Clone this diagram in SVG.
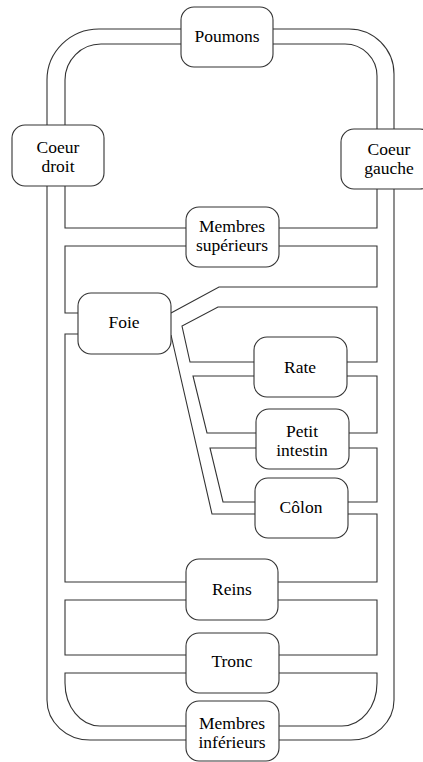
<svg xmlns="http://www.w3.org/2000/svg" width="423" height="762" viewBox="0 0 423 762">
<style>
.box{fill:#fff;stroke:#333;stroke-width:1.1}
.ln{fill:none;stroke:#333;stroke-width:1.1}
text{font-family:"Liberation Serif","DejaVu Serif",serif;font-size:17.5px;fill:#000;text-anchor:middle}
</style>
<rect width="423" height="762" fill="#fff"/>
<g id="connectors" class="ln">
<path d="M181,29 H99 A52,51 0 0 0 47,80 V125"/>
<path d="M47,186 V700 A43,40 0 0 0 90,740 H186"/>
<path d="M273,29 H349 A45,45 0 0 1 394,74 V129"/>
<path d="M394,189 V700 A43,40 0 0 1 351,740 H279"/>
<path d="M181,44 H101 A36,36 0 0 0 65,80 V125"/>
<path d="M273,44 H345 A32,32 0 0 1 377,76 V129"/>
<path d="M65,186 V228 H186"/>
<path d="M279,228 H377 V189"/>
<path d="M186,246 H65 V313 H78"/>
<path d="M279,246 H377 V287 H219 L171,313"/>
<path d="M78,334 H65 V582 H186"/>
<path d="M347,362 H377 V307 H218 L182,326 L190,362 H254"/>
<path d="M254,376 H193 L207,433 H256"/>
<path d="M347,376 H377 V433 H349"/>
<path d="M256,448 H210 L223,502 H255"/>
<path d="M349,448 H377 V502 H348"/>
<path d="M171,335 L212,514 H255"/>
<path d="M348,514 H377 V582 H278"/>
<path d="M186,600 H65 V655 H186"/>
<path d="M278,600 H377 V655 H279"/>
<path d="M186,673 H65 V683 A35,43 0 0 0 100,726 H186"/>
<path d="M279,673 H377 V683 A35,43 0 0 1 342,726 H279"/>
</g>
<g id="poumons"><rect class="box" x="181" y="7" width="92" height="60" rx="13"/><text x="227" y="42">Poumons</text></g>
<g id="coeur-droit"><rect class="box" x="12" y="125" width="92" height="61" rx="13"/><text x="58" y="153">Coeur</text><text x="58" y="172">droit</text></g>
<g id="coeur-gauche"><rect class="box" x="341" y="129" width="92" height="60" rx="13"/><text x="389" y="155">Coeur</text><text x="389" y="174">gauche</text></g>
<g id="membres-superieurs"><rect class="box" x="186" y="207" width="93" height="60" rx="13"/><text x="232" y="232">Membres</text><text x="232" y="251">supérieurs</text></g>
<g id="foie"><rect class="box" x="78" y="293" width="93" height="61" rx="13"/><text x="124" y="328">Foie</text></g>
<g id="rate"><rect class="box" x="254" y="337" width="93" height="60" rx="13"/><text x="300" y="373">Rate</text></g>
<g id="petit-intestin"><rect class="box" x="256" y="409" width="93" height="60" rx="13"/><text x="302" y="437">Petit</text><text x="302" y="456">intestin</text></g>
<g id="colon"><rect class="box" x="255" y="478" width="93" height="60" rx="13"/><text x="301" y="513">Côlon</text></g>
<g id="reins"><rect class="box" x="186" y="559" width="92" height="61" rx="13"/><text x="232" y="595">Reins</text></g>
<g id="tronc"><rect class="box" x="186" y="633" width="93" height="60" rx="13"/><text x="232" y="667">Tronc</text></g>
<g id="membres-inferieurs"><rect class="box" x="186" y="701" width="93" height="60" rx="13"/><text x="232" y="729">Membres</text><text x="232" y="748">inférieurs</text></g>
</svg>
